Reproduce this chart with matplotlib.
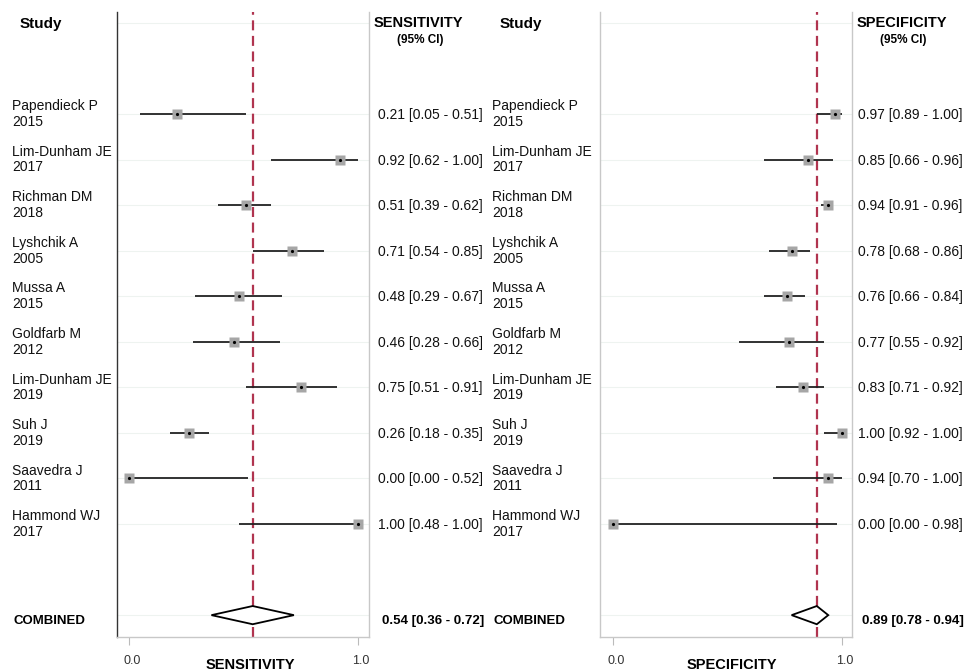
import matplotlib
matplotlib.use("Agg")
import matplotlib.pyplot as plt
from matplotlib.transforms import blended_transform_factory, ScaledTranslation
from matplotlib.patches import Polygon

plt.rcParams['font.family'] = ['Liberation Sans', 'DejaVu Sans']

# ---- data ----
authors = ["Papendieck P", "Lim-Dunham JE", "Richman DM", "Lyshchik A", "Mussa A",
           "Goldfarb M", "Lim-Dunham JE", "Suh J", "Saavedra J", "Hammond WJ"]
years = ["2015", "2017", "2018", "2005", "2015", "2012", "2019", "2019", "2011", "2017"]

sens = [0.21, 0.92, 0.51, 0.71, 0.48, 0.46, 0.75, 0.26, 0.00, 1.00]
sens_lo = [0.05, 0.62, 0.39, 0.54, 0.29, 0.28, 0.51, 0.18, 0.00, 0.48]
sens_hi = [0.51, 1.00, 0.62, 0.85, 0.67, 0.66, 0.91, 0.35, 0.52, 1.00]

spec = [0.97, 0.85, 0.94, 0.78, 0.76, 0.77, 0.83, 1.00, 0.94, 0.00]
spec_lo = [0.89, 0.66, 0.91, 0.68, 0.66, 0.55, 0.71, 0.92, 0.70, 0.00]
spec_hi = [1.00, 0.96, 0.96, 0.86, 0.84, 0.92, 0.92, 1.00, 1.00, 0.98]

pooled_sens = [0.54, 0.36, 0.72]
pooled_spec = [0.89, 0.78, 0.94]

tick_vals = [0.0, 1.0]
tick_labels = ["0.0", "1.0"]

W, H = 969, 671
fig = plt.figure(figsize=(W / 100, H / 100), dpi=100)


def fx(px):
    return px / W


def make_panel(left_px, xlim, est, lo, hi, pooled, name, name_x, val_x, head_x,
               head_ci_x, left_spine_color, xlabel_x):
    ax = fig.add_axes([fx(left_px), (H - 637) / H, 252 / W, 625 / H])
    ax.set_xlim(*xlim)
    ax.set_ylim(13.48, -0.24)
    rows = list(range(2, 2 + len(est)))
    comb_row = 13

    # faint row guides
    for r in [0] + rows + [comb_row]:
        ax.axhline(r, color='#eef3f0', lw=0.8, zorder=0)

    # pooled estimate reference line
    ax.axvline(pooled[0], color='#b0344f', lw=1.6, ls=(0, (4.5, 2.5)), zorder=1)

    for r, e, l, h in zip(rows, est, lo, hi):
        ax.plot([l, h], [r, r], color='#222222', lw=1.3, zorder=2, solid_capstyle='butt')
        ax.plot([e], [r], marker='s', ms=7.5, color='#a6a6a6', mec='none', zorder=3)
        ax.plot([e], [r], marker='o', ms=2.3, color='black', mec='none', zorder=4)

    p, pl, ph = pooled
    dh = 0.2
    ax.add_patch(Polygon([[pl, comb_row], [p, comb_row - dh], [ph, comb_row], [p, comb_row + dh]],
                         closed=True, facecolor='white', edgecolor='black', lw=1.3, zorder=3))

    # spines / ticks
    ax.spines['top'].set_visible(False)
    ax.spines['left'].set_color(left_spine_color)
    ax.spines['right'].set_color('#c8c8c8')
    ax.spines['bottom'].set_color('#c8c8c8')
    for s in ax.spines.values():
        s.set_linewidth(1.0)
    ax.set_yticks([])
    ax.set_xticks(tick_vals)
    ax.set_xticklabels(tick_labels)
    ax.tick_params(axis='x', length=6, color='#bbbbbb', labelsize=9, pad=7,
                   labelcolor='#333333')
    shift = ScaledTranslation(3 / 100, 0, fig.dpi_scale_trans)
    for t in ax.get_xticklabels():
        t.set_transform(t.get_transform() + shift)

    fig.text(fx(xlabel_x), (H - 665) / H, name, ha='center', va='center',
             fontsize=10.5, fontweight='bold')

    tr = blended_transform_factory(fig.transFigure, ax.transData)
    fig.text(fx(name_x + 8), 0.02, "Study", transform=tr, fontsize=11, fontweight='bold',
             ha='left', va='center')
    fig.text(fx(head_x), 0.0, name, transform=tr, fontsize=10.5, fontweight='bold',
             ha='left', va='center')
    fig.text(fx(head_ci_x), 0.38, "(95% CI)", transform=tr, fontsize=8.5,
             fontweight='bold', ha='center', va='center')

    for r, a, y, e, l, h in zip(rows, authors, years, est, lo, hi):
        fig.text(fx(name_x), r, a + "\n" + y, transform=tr, fontsize=10, ha='left',
                 va='center', linespacing=1.15, color='#111111')
        fig.text(fx(val_x), r + 0.02, f"{e:.2f} [{l:.2f} - {h:.2f}]", transform=tr,
                 fontsize=10, ha='left', va='center', color='#111111')

    fig.text(fx(name_x + 1), comb_row + 0.13, "COMBINED", transform=tr, fontsize=9.5,
             fontweight='bold', ha='left', va='center')
    fig.text(fx(val_x + 4), comb_row + 0.13, f"{p:.2f} [{pl:.2f} - {ph:.2f}]",
             transform=tr, fontsize=9.5, fontweight='bold', ha='left', va='center')
    return ax


make_panel(117, (-0.0524, 1.048), sens, sens_lo, sens_hi, pooled_sens, "SENSITIVITY",
           12, 378, 374, 420, '#333333', 250)
make_panel(600, (-0.0568, 1.0437), spec, spec_lo, spec_hi, pooled_spec, "SPECIFICITY",
           492, 858, 857, 903, '#c8c8c8', 732)

fig.savefig("out.png", dpi=100)
